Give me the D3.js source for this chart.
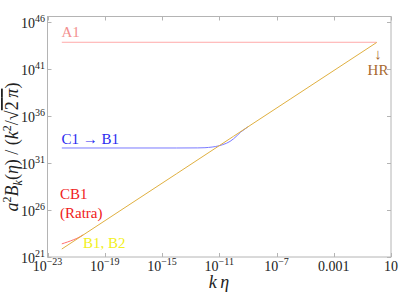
<!DOCTYPE html>
<html lang="en">
<head>
    <meta charset="UTF-8">
    <script src="https://d3js.org/d3.v7.min.js"></script>
    <title>Magnetic spectrum</title>
    <style>
        body { margin: 0; background: white; }
    </style>
</head>
<body>
    <div id="chart"></div>
    <script>
        // values given as log10 exponents
        const a1LogK = [-22, 0];
        const a1LogB = [43.89, 43.89];

        // C1 -> B1 plateau, then it joins the B1 line and hides under it
        const c1LogK = [-22, -14, -12.5, -12, -11.75, -11.5, -11.25, -11, -10.75, -10.5, -10.25, -10, -9.75, -9.5, -9];
        const c1LogB = [32.62, 32.62, 32.63, 32.65, 32.68, 32.72, 32.78, 32.86, 32.98, 33.12, 33.32, 33.6, 33.95, 34.32, 34.87];

        // CB1 (Ratra) sits a little above B1 at small k eta
        const cb1LogK = [-22, -21.8, -21.6, -21.4, -21.2, -21, -20.8, -20.5];
        const cb1LogB = [22.4, 22.5, 22.6, 22.71, 22.83, 22.95, 23.1, 23.37];

        const b1LogK = [-22, -18, -14, -10, -6, -2, 0];
        const b1LogB = [21.85, 25.86, 29.86, 33.87, 37.87, 41.87, 43.87];

        const xTickExp = [-23, -19, -15, -11, -7, -3, 1];
        const xTickText = [null, null, null, null, null, "0.001", "10"];
        const yTickExp = [21, 26, 31, 36, 41, 46];

        const W = 399, H = 296;
        const serif = "'Liberation Serif', 'Times New Roman', 'DejaVu Serif', serif";
        const svg = d3.select("#chart").append("svg")
            .attr("width", W).attr("height", H)
            .attr("font-family", serif);

        const x = d3.scaleLog().domain([1e-23, 10]).range([47.5, 391]);
        const y = d3.scaleLog().domain([1e21, Math.pow(10, 46.69)]).range([257, 16]);

        const toPts = (ks, bs) => ks.map((k, i) => ({ k: Math.pow(10, k), b: Math.pow(10, bs[i]) }));

        const line = d3.line()
            .x(d => x(d.k))
            .y(d => y(d.b));

        // frame
        const frame = "#b4b4b4";
        svg.append("rect")
            .attr("x", 47.5).attr("y", 16.5)
            .attr("width", 391 - 47.5).attr("height", 257 - 16.5)
            .attr("fill", "none").attr("stroke", frame).attr("stroke-width", 1);

        // ticks on all sides
        xTickExp.forEach(e => {
            const xp = Math.round(x(Math.pow(10, e))) + 0.5;
            svg.append("line").attr("x1", xp).attr("x2", xp).attr("y1", 257).attr("y2", 253)
                .attr("stroke", frame);
            svg.append("line").attr("x1", xp).attr("x2", xp).attr("y1", 16.5).attr("y2", 20.5)
                .attr("stroke", frame);
        });
        yTickExp.forEach(e => {
            const yp = Math.round(y(Math.pow(10, e))) + 0.5;
            svg.append("line").attr("x1", 47.5).attr("x2", 51.5).attr("y1", yp).attr("y2", yp)
                .attr("stroke", frame);
            svg.append("line").attr("x1", 391).attr("x2", 387).attr("y1", yp).attr("y2", yp)
                .attr("stroke", frame);
        });

        // x tick labels
        xTickExp.forEach((e, i) => {
            const t = svg.append("text")
                .attr("x", x(Math.pow(10, e)))
                .attr("y", 271)
                .attr("text-anchor", "middle")
                .attr("font-size", 14)
                .attr("fill", "#222");
            if (xTickText[i]) {
                t.text(xTickText[i]);
            } else {
                t.append("tspan").text("10");
                t.append("tspan").attr("dy", -6).attr("font-size", 10).text("\u2212" + Math.abs(e));
            }
        });

        // y tick labels
        yTickExp.forEach(e => {
            const t = svg.append("text")
                .attr("x", 45)
                .attr("y", y(Math.pow(10, e)) + 5.5)
                .attr("text-anchor", "end")
                .attr("font-size", 14)
                .attr("fill", "#222");
            t.append("tspan").text("10");
            t.append("tspan").attr("dy", -6).attr("font-size", 10).text(e);
        });

        // curves
        svg.append("path").datum(toPts(c1LogK, c1LogB))
            .attr("fill", "none").attr("stroke", "#7a7aff").attr("stroke-width", 1)
            .attr("d", line);
        svg.append("path").datum(toPts(a1LogK, a1LogB))
            .attr("fill", "none").attr("stroke", "#ffaaaa").attr("stroke-width", 1)
            .attr("d", line);
        svg.append("path").datum(toPts(cb1LogK, cb1LogB))
            .attr("fill", "none").attr("stroke", "#ff7070").attr("stroke-width", 1)
            .attr("d", line);
        svg.append("path").datum(toPts(b1LogK, b1LogB))
            .attr("fill", "none").attr("stroke", "#e0b040").attr("stroke-width", 1)
            .attr("d", line);

        // curve labels
        const label = (txt, xp, yp, col, anchor) => svg.append("text")
            .attr("x", xp).attr("y", yp)
            .attr("font-size", 15)
            .attr("fill", col)
            .attr("text-anchor", anchor || "start")
            .text(txt);
        label("A1", 61.5, 37, "#f39090");
        label("C1 \u2192 B1", 61.5, 143.5, "#2a2af0");
        label("CB1", 60, 199, "#f02020");
        label("(Ratra)", 60, 218, "#f02020");
        label("B1, B2", 83, 248, "#f2f020");
        label("\u2193", 378, 59, "#a86a30", "middle");
        label("HR", 378, 75, "#a86a30", "middle");

        // axis titles
        svg.append("text")
            .attr("x", 219).attr("y", 288)
            .attr("text-anchor", "middle")
            .attr("font-size", 18)
            .attr("font-style", "italic")
            .attr("fill", "#222")
            .text("k\u2009\u03b7");

        const yt = svg.append("text")
            .attr("transform", "translate(18,147) rotate(-90)")
            .attr("text-anchor", "middle")
            .attr("font-size", 18)
            .attr("fill", "#222");
        yt.append("tspan").attr("font-style", "italic").text("a");
        yt.append("tspan").attr("dy", -7).attr("font-size", 12).text("2");
        yt.append("tspan").attr("dy", 7).attr("font-style", "italic").text("B");
        yt.append("tspan").attr("dy", 4).attr("font-size", 12).attr("font-style", "italic").text("k");
        yt.append("tspan").attr("dy", -4).text("(");
        yt.append("tspan").attr("font-style", "italic").text("\u03b7");
        yt.append("tspan").text(") / (");
        yt.append("tspan").attr("font-style", "italic").text("k");
        yt.append("tspan").attr("dy", -7).attr("font-size", 12).text("2");
        yt.append("tspan").attr("dy", 7).text("/\u221a");
        yt.append("tspan").attr("text-decoration", "overline").text("2\u2009");
        yt.append("tspan").attr("text-decoration", "overline").attr("font-style", "italic").text("\u03c0");
        yt.append("tspan").text(")");
    </script>
</body>
</html>
